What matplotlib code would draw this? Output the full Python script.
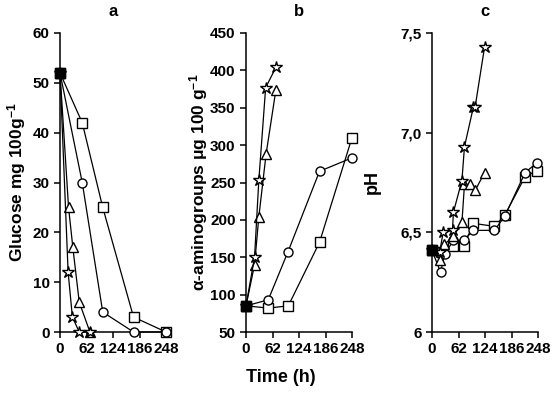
import numpy as np
import matplotlib
matplotlib.use("Agg")
import matplotlib.pyplot as plt
from matplotlib import rcParams

rcParams['font.family'] = ['Liberation Sans', 'DejaVu Sans']
rcParams['font.weight'] = 'bold'
rcParams['mathtext.fontset'] = 'custom'
rcParams['mathtext.rm'] = 'Liberation Sans'
rcParams['mathtext.bf'] = 'Liberation Sans:bold'
rcParams['mathtext.default'] = 'rm'

# panel a: glucose (mg 100g-1)
sq_a_t = [0, 52, 100, 172, 248]
sq_a = [52, 42, 25, 3, 0]
ci_a_t = [0, 52, 100, 172, 248]
ci_a = [52, 30, 4, 0, 0]
tr_a_t = [0, 20, 30, 45, 70]
tr_a = [52, 25, 17, 6, 0]
st_a_t = [0, 19, 29, 45, 70]
st_a = [52, 12, 3, 0, 0]

# panel b: alpha-aminogroups
sq_b_t = [0, 52, 99, 172, 248]
sq_b = [85, 82, 85, 170, 310]
ci_b_t = [0, 52, 98, 172, 248]
ci_b = [85, 93, 157, 265, 283]
tr_b_t = [0, 20, 30, 47, 70]
tr_b = [85, 140, 204, 288, 374]
st_b_t = [0, 20, 30, 46, 70]
st_b = [85, 150, 253, 377, 404]

# panel c: pH
sq_c_t = [0, 24, 50, 74, 97, 146, 170, 218, 246]
sq_c = [6.41, 6.40, 6.43, 6.43, 6.545, 6.53, 6.585, 6.78, 6.81]
ci_c_t = [0, 20, 30, 50, 74, 97, 146, 170, 218, 246]
ci_c = [6.41, 6.30, 6.39, 6.46, 6.46, 6.51, 6.51, 6.58, 6.80, 6.85]
tr_c_t = [0, 19, 29, 50, 70, 76, 90, 101, 123]
tr_c = [6.41, 6.36, 6.44, 6.48, 6.55, 6.74, 6.74, 6.71, 6.80]
st_c_t = [0, 18, 26, 48, 50, 70, 76, 97, 101, 123]
st_c = [6.41, 6.40, 6.50, 6.51, 6.60, 6.76, 6.93, 7.13, 7.13, 7.43]

xticks = [0, 62, 124, 186, 248]

fig = plt.figure(figsize=(5.53, 4.07), dpi=100)
lefts = [60/553, 246/553, 432/553]
axs = [fig.add_axes([l, 1-332/407, 106/553, 299/407]) for l in lefts]

def style(ax):
    for s in ["top", "right"]:
        ax.spines[s].set_visible(False)
    for s in ["left", "bottom"]:
        ax.spines[s].set_linewidth(1.1)
    ax.tick_params(direction="out", length=4, width=1.1, labelsize=11)
    ax.set_xlim(0, 248)
    ax.set_xticks(xticks)
    ax.set_xticklabels([str(x) for x in xticks])

def series(ax, t, v, marker, ms):
    ax.plot(t, v, color="black", lw=0.9, marker=marker, ms=ms,
            mfc="white", mec="black", mew=1.0, clip_on=False, zorder=3)

panels = [
    (axs[0], [(sq_a_t, sq_a), (ci_a_t, ci_a), (tr_a_t, tr_a), (st_a_t, st_a)]),
    (axs[1], [(sq_b_t, sq_b), (ci_b_t, ci_b), (tr_b_t, tr_b), (st_b_t, st_b)]),
    (axs[2], [(sq_c_t, sq_c), (ci_c_t, ci_c), (tr_c_t, tr_c), (st_c_t, st_c)]),
]
markers = [("s", 6.5), ("o", 6.5), ("^", 7), ("*", 9)]

for ax, data in panels:
    style(ax)
    for (t, v), (m, ms) in zip(data, markers):
        series(ax, t, v, m, ms)
    # shared starting point
    ax.plot([data[0][0][0]], [data[0][1][0]], "s", color="black", ms=6.5,
            clip_on=False, zorder=5)

axs[0].set_ylim(0, 60)
axs[0].set_yticks(range(0, 61, 10))
axs[1].set_ylim(50, 450)
axs[1].set_yticks(range(50, 451, 50))
axs[2].set_ylim(6, 7.5)
axs[2].set_yticks([6, 6.5, 7.0, 7.5])
axs[2].set_yticklabels(["6", "6,5", "7,0", "7,5"])
for ax in axs:
    for lab in ax.get_xticklabels() + ax.get_yticklabels():
        lab.set_fontweight("bold")

for ax, title in zip(axs, ["a", "b", "c"]):
    ax.set_title(title, fontsize=12, fontweight="bold", pad=12)

axs[0].set_ylabel(r"Glucose mg 100g$^{\mathbf{-1}}$", fontsize=12.5, fontweight="bold", labelpad=3)
axs[1].set_ylabel(r"$\alpha$-aminogroups $\mu$g 100 g$^{\mathbf{-1}}$", fontsize=12.5, fontweight="bold", labelpad=0)
axs[2].set_ylabel("pH", fontsize=13, fontweight="bold", labelpad=14)

fig.text(0.508, 1-378/407, "Time (h)", ha="center", va="center", fontsize=13, fontweight="bold")

fig.savefig("out.png", dpi=100)
